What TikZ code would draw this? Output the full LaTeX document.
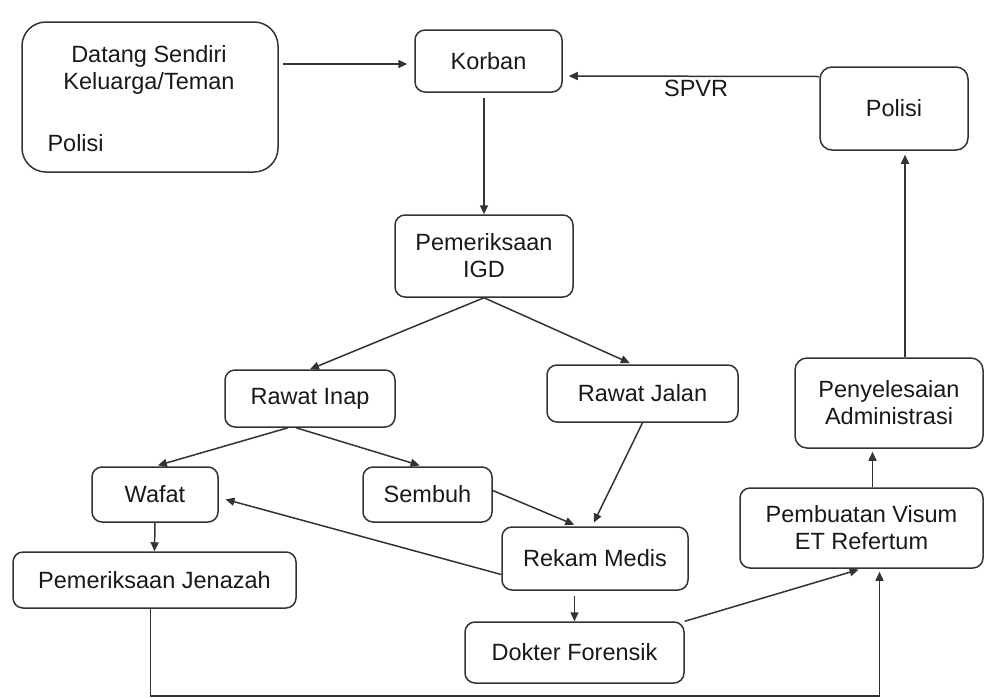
\documentclass[tikz,border=0pt]{standalone}
\usepackage{fontspec}
\setmainfont{Liberation Sans}
\usepackage{tikz}
\usetikzlibrary{calc}
\usetikzlibrary{positioning}
\usetikzlibrary{arrows.meta}

\begin{document}
\begin{tikzpicture}[x=1pt, y=-1pt,
	every node/.style={font=\fontsize{23.5}{27}\selectfont, text=black!90},
	box/.style={draw=black!80, line width=1.5pt, rounded corners=10pt, align=center, inner sep=0pt},
	arr/.style={draw=black!80, line width=1.5pt, -{Triangle[length=9pt,width=8pt]}}]
					\useasboundingbox (0,0) rectangle (985,697);

					% boxes
					\node (datang) [box, rounded corners=24pt, minimum width=256pt, minimum height=150pt] at (150,97) {};
					\node at (149,56) {Datang Sendiri};
					\node at (149,83) {Keluarga/Teman};
					\node [anchor=west] at (44,143) {Polisi};
					\node (korban) [box, minimum width=147pt, minimum height=62pt] at (488.5,61) {Korban};
					\node (polisi) [box, rounded corners=12pt, minimum width=148pt, minimum height=83pt] at (894,108.5) {Polisi};
					\node (igd) [box, minimum width=178pt, minimum height=82pt] at (484,256) {Pemeriksaan\\IGD};
					\node (inap) [box, minimum width=170pt, minimum height=57pt] at (310,398.5) {Rawat Inap};
					\node (jalan) [box, minimum width=191pt, minimum height=57pt] at (642.5,393.5) {Rawat Jalan};
					\node (wafat) [box, minimum width=126pt, minimum height=55pt] at (155,494.5) {Wafat};
					\node (sembuh) [box, minimum width=129pt, minimum height=55pt] at (427.5,494.5) {Sembuh};
					\node (rekam) [box, minimum width=186pt, minimum height=63pt] at (595,558.5) {Rekam Medis};
					\node (jenazah) [box, minimum width=283pt, minimum height=56pt] at (154.5,580) {Pemeriksaan Jenazah};
					\node (dokter) [box, minimum width=219pt, minimum height=61pt] at (574.5,652.5) {Dokter Forensik};
					\node (visum) [box, minimum width=243pt, minimum height=80pt] at (861.5,528) {Pembuatan Visum\\ET Refertum};
					\node (admin) [box, rounded corners=12pt, minimum width=188pt, minimum height=90pt] at (889,403) {Penyelesaian\\Administrasi};

					% connectors
					\draw[arr, shorten <=4pt, shorten >=7pt] ([yshift=-3pt]datang.east |- korban.west) -- ([yshift=-3pt]korban.west);
					\draw[arr, shorten >=6pt] ([yshift=32pt]polisi.west) -- node[below, pos=0.48] {SPVR} ([yshift=-15pt]korban.east);
					\draw[arr, shorten <=5pt] (igd.north |- korban.south) -- (igd.north);
					\draw[arr] (igd.south) -- (inap.north);
					\draw[arr, shorten >=3pt] (igd.south) -- ([xshift=-10pt]jalan.north);
					\draw[arr, shorten >=3pt] ([xshift=-22pt]inap.south) -- (wafat.north);
					\draw[arr, shorten >=3pt] ([xshift=-14pt]inap.south) -- ([xshift=-5pt]sembuh.north);
					\draw[arr, shorten >=4pt] ([yshift=4pt]sembuh.east) -- ([xshift=-17pt]rekam.north);
					\draw[arr, shorten >=4pt] (jalan.south) -- ([xshift=-3pt]rekam.north);
					\draw[arr, shorten >=7pt] ([yshift=-16pt]rekam.west) -- ([yshift=-3pt]wafat.east);
					\draw[arr] (wafat.south) -- (jenazah.north);
					\draw[arr, shorten <=5pt] (dokter.north |- rekam.south) -- (dokter.north);
					\draw[arr, shorten >=3pt] (dokter.north east) -- (visum.south);
					\draw[arr, shorten >=3pt] ([xshift=-4pt]jenazah.south) -- ++(0,87) -| ([xshift=18pt]visum.south);
					\draw[arr, shorten >=3pt] ([xshift=11pt]visum.north) -- ([xshift=11pt]visum.north |- admin.south);
					\draw[arr, shorten >=4pt] ([xshift=16pt]admin.north) -- ([xshift=11pt]polisi.south);
                \end{tikzpicture}
\end{document}
